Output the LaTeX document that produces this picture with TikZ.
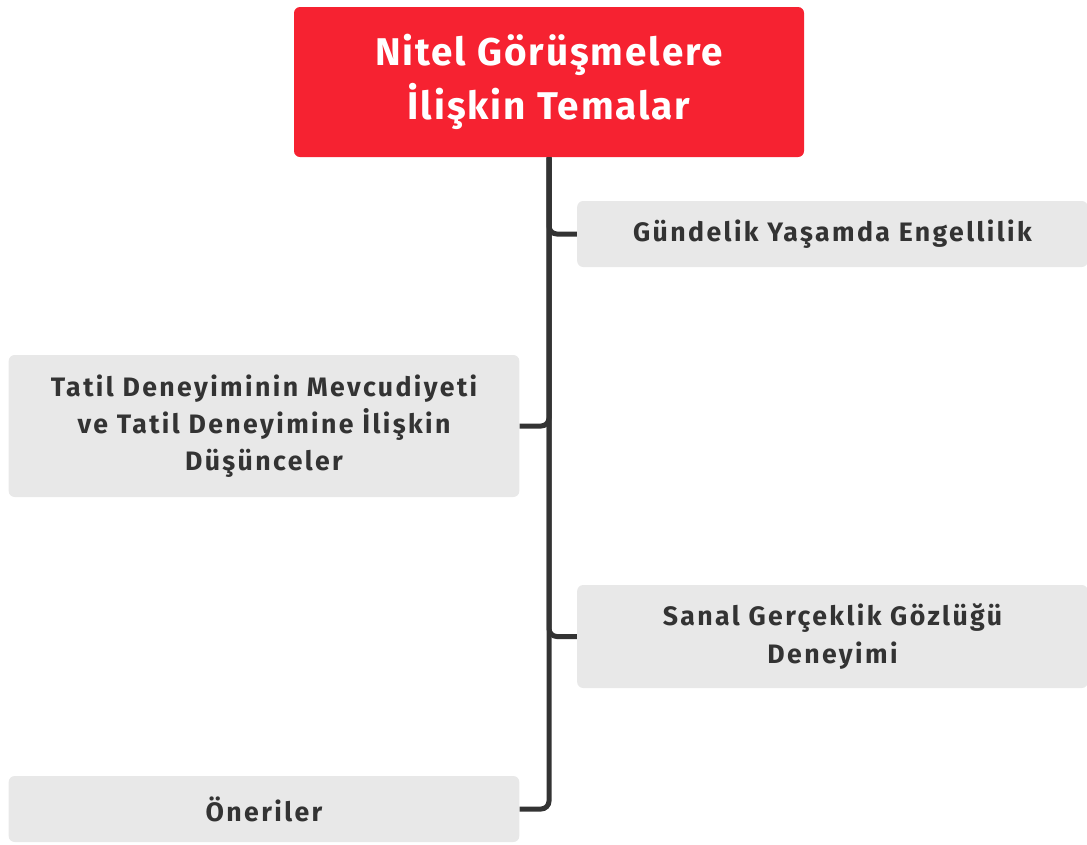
\documentclass[tikz,border=0pt]{standalone}
\usepackage{fontspec}
\setmainfont{Fira Sans}
\usepackage{tikz}

\definecolor{rootred}{HTML}{F62231}
\definecolor{leafgray}{HTML}{E8E8E8}
\definecolor{inkgray}{HTML}{333333}

\tikzset{
  rootbox/.style={rectangle, rounded corners=4.5pt, fill=rootred, text=white,
    minimum width=382.5pt, minimum height=112.5pt, align=center,
    font=\fontsize{29}{40}\selectfont\bfseries\addfontfeatures{LetterSpace=5}},
  leafbox/.style={rectangle, rounded corners=4.5pt, fill=leafgray, text=inkgray,
    minimum width=383pt, align=center,
    font=\fontsize{20}{28}\selectfont\bfseries\addfontfeatures{LetterSpace=9}},
  branch/.style={draw=inkgray, line width=3.75pt, rounded corners=6pt}
}

\begin{document}
\begin{tikzpicture}[x=0.75pt, y=-0.75pt]
\useasboundingbox (0,0) rectangle (1087,844);
% root
\node[rootbox] (root) at (549,82) {Nitel Görüşmelere\\İlişkin Temalar};
% themes
\node[leafbox, minimum height=49.5pt] (gundelik) at (832.5,234) {Gündelik Yaşamda Engellilik};
\node[leafbox, minimum height=106.5pt] (tatil) at (264,426) {Tatil Deneyiminin Mevcudiyeti\\ve Tatil Deneyimine İlişkin\\Düşünceler};
\node[leafbox, minimum height=77.25pt] (sanal) at (832.5,636.5) {Sanal Gerçeklik Gözlüğü\\Deneyimi};
\node[leafbox, minimum height=49.5pt] (oneriler) at (264,809) {Öneriler};
% connectors
\draw[branch] (root.south) |- (oneriler.east);
\draw[branch] (root.south) |- (gundelik.west);
\draw[branch] (root.south) |- (tatil.east);
\draw[branch] (root.south) |- (sanal.west);
\end{tikzpicture}
\end{document}
